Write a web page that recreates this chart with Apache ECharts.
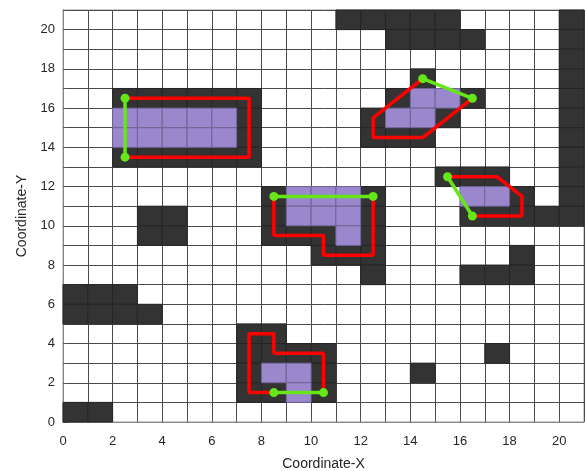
<!DOCTYPE html>
<html>
<head>
<meta charset="utf-8">
<script src="https://cdn.jsdelivr.net/npm/echarts@6/dist/echarts.min.js"></script>
<style>html,body{margin:0;padding:0;background:#fff}#c{width:586px;height:471px}</style>
</head>
<body>
<div id="c"></div>
<script>
// Grid cells [x, y] (lower-left corner of each 1x1 cell)
var darkCells = [
  [11,20],[12,20],[13,20],[14,20],[15,20],[20,20],
  [13,19],[14,19],[15,19],[16,19],[20,19],
  [20,18],
  [14,17],[20,17],
  [2,16],[3,16],[4,16],[5,16],[6,16],[7,16],[13,16],[16,16],[20,16],
  [7,15],[12,15],[15,15],[20,15],
  [7,14],[12,14],[13,14],[14,14],[20,14],
  [2,13],[3,13],[4,13],[5,13],[6,13],[7,13],[20,13],
  [15,12],[16,12],[17,12],[20,12],
  [8,11],[12,11],[18,11],[20,11],
  [3,10],[4,10],[8,10],[12,10],[16,10],[17,10],[18,10],[19,10],[20,10],
  [3,9],[4,9],[8,9],[9,9],[10,9],[12,9],
  [10,8],[11,8],[12,8],[18,8],
  [12,7],[16,7],[17,7],[18,7],
  [0,6],[1,6],[2,6],
  [0,5],[1,5],[2,5],[3,5],
  [7,4],[8,4],
  [7,3],[8,3],[9,3],[10,3],[17,3],
  [7,2],[10,2],[14,2],
  [7,1],[8,1],[10,1],
  [0,0],[1,0]
];
var purpleCells = [
  [14,16],[15,16],
  [2,15],[3,15],[4,15],[5,15],[6,15],[13,15],[14,15],
  [2,14],[3,14],[4,14],[5,14],[6,14],
  [9,11],[10,11],[11,11],[16,11],[17,11],
  [9,10],[10,10],[11,10],
  [11,9],
  [8,2],[9,2],
  [9,1]
];
// Red paths
var redPath1 = [[2.5,16.5],[7.5,16.5],[7.5,13.5],[2.5,13.5]];
var redPath2 = [[14.5,17.5],[12.5,15.5],[12.5,14.5],[14.5,14.5],[16.5,16.5]];
var redPath3 = [[8.5,11.5],[8.5,9.5],[10.5,9.5],[10.5,8.5],[12.5,8.5],[12.5,11.5]];
var redPath4 = [[15.5,12.5],[17.5,12.5],[18.5,11.5],[18.5,10.5],[16.5,10.5]];
var redPath5 = [[8.5,1.5],[7.5,1.5],[7.5,4.5],[8.5,4.5],[8.5,3.5],[10.5,3.5],[10.5,1.5]];
// Green segments
var greenPath1 = [[2.5,16.5],[2.5,13.5]];
var greenPath2 = [[14.5,17.5],[16.5,16.5]];
var greenPath3 = [[8.5,11.5],[12.5,11.5]];
var greenPath4 = [[15.5,12.5],[16.5,10.5]];
var greenPath5 = [[8.5,1.5],[10.5,1.5]];

var RED = '#ff0000', GREEN = '#66e619', DARK = '#333333', PURPLE = '#9b87cc';

function cellSeries(data, color, edge) {
  return {
    type: 'custom',
    data: data,
    silent: true,
    z: 1,
    renderItem: function (params, api) {
      var x = api.value(0), y = api.value(1);
      var p0 = api.coord([x, y + 1]);
      var p1 = api.coord([x + 1, y]);
      return {
        type: 'rect',
        shape: { x: p0[0], y: p0[1], width: p1[0] - p0[0], height: p1[1] - p0[1] },
        style: { fill: color, stroke: edge, lineWidth: 1 }
      };
    }
  };
}
function lineSeries(data, color, withSymbol) {
  return {
    type: 'line',
    data: data,
    z: withSymbol ? 4 : 3,
    silent: true,
    animation: false,
    showSymbol: withSymbol,
    symbol: 'circle',
    symbolSize: 9,
    lineStyle: { color: color, width: 3.5 },
    itemStyle: { color: color }
  };
}
var series = [cellSeries(darkCells, DARK, '#262626'), cellSeries(purpleCells, PURPLE, '#6f6496')];
[redPath1, redPath2, redPath3, redPath4, redPath5].forEach(function (p) { series.push(lineSeries(p, RED, false)); });
[greenPath1, greenPath2, greenPath3, greenPath4, greenPath5].forEach(function (p) { series.push(lineSeries(p, GREEN, true)); });

var axisCommon = {
  type: 'value', min: 0, max: 21, interval: 1,
  axisLine: { show: true, onZero: false, lineStyle: { color: '#888', width: 1 } },
  axisTick: { show: true, inside: true, length: 5, lineStyle: { color: '#555' } },
  axisLabel: {
    color: '#262626', fontSize: 13, fontFamily: 'Liberation Sans, Arial, sans-serif',
    formatter: function (v) { return (v % 2 === 0 && v <= 20) ? String(v) : ''; }
  },
  splitLine: { show: true, lineStyle: { color: '#4a4a4a', width: 1 } },
  nameLocation: 'middle',
  nameTextStyle: { color: '#262626', fontSize: 14, fontFamily: 'Liberation Sans, Arial, sans-serif' }
};
var chart = echarts.init(document.getElementById('c'), null, { renderer: 'canvas' });
chart.setOption({
  animation: false,
  backgroundColor: '#fff',
  grid: { left: 63, right: 2, top: 10, bottom: 49, show: true, borderColor: '#999', borderWidth: 1, containLabel: false, outerBoundsMode: 'none' },
  xAxis: Object.assign({}, axisCommon, { name: 'Coordinate-X', nameGap: 35, axisLabel: Object.assign({}, axisCommon.axisLabel, { margin: 13 }) }),
  yAxis: Object.assign({}, axisCommon, { name: 'Coordinate-Y', nameGap: 29, axisLabel: Object.assign({}, axisCommon.axisLabel, { margin: 8 }) }),
  series: series
});
</script>
</body>
</html>
